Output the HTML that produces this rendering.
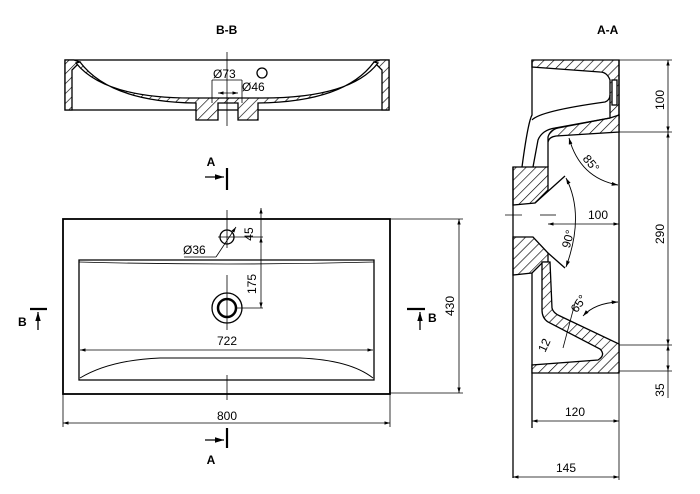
<!DOCTYPE html>
<html><head><style>body{margin:0;background:#fff}svg{display:block}text{font-family:"Liberation Sans",sans-serif;font-size:12px;fill:#000}</style></head><body>
<svg width="700" height="494" viewBox="0 0 700 494" xmlns="http://www.w3.org/2000/svg">
<defs>
<pattern id="h" width="7" height="7" patternUnits="userSpaceOnUse" patternTransform="rotate(45)"><rect width="7" height="7" fill="#fff"/><line x1="0" y1="0" x2="0" y2="7" stroke="#000" stroke-width="1.3"/></pattern>
<marker id="a" viewBox="0 0 10 10" refX="10" refY="5" markerWidth="7" markerHeight="7" orient="auto-start-reverse"><path d="M0,2 L10,5 L0,8z" fill="#000"/></marker>
</defs>
<g stroke="#000" fill="none" stroke-width="1.3">
<!-- B-B section -->
<rect x="65" y="60" width="324" height="50"/>
<path d="M65,60 L65,110 L72,110 L72,70 L80,62 L74,60z" fill="url(#h)"/>
<path d="M389,60 L389,110 L382,110 L382,70 L374,62 L380,60z" fill="url(#h)"/>
<path d="M80,62 Q110,102 196,103 L196,120 L218,120 L218,103 L238,103 L238,120 L258,120 L258,103 Q345,102 374,62 L378,63 Q350,99 258,98 L196,98 Q105,99 76,63z" fill="url(#h)"/>
<line x1="227" y1="52" x2="227" y2="126" stroke-width="0.8"/>
<circle cx="262" cy="73" r="5"/>
<line x1="212" y1="80" x2="242" y2="80" stroke-width="0.8"/>
<line x1="212" y1="80" x2="212" y2="103" stroke-width="0.8"/>
<line x1="242" y1="80" x2="242" y2="103" stroke-width="0.8"/>
<line x1="218" y1="93" x2="238" y2="93" stroke-width="0.8" marker-start="url(#a)" marker-end="url(#a)"/>
<!-- top view -->
<rect x="63" y="219" width="327" height="175" stroke-width="1.8"/>
<path d="M79,260 L374,260 L374,380 L79,380z"/>
<path d="M79,262 Q227,266 374,262" stroke-width="0.8"/>
<path d="M80,378 Q110,360 160,358 L300,358 Q350,360 373,378" stroke-width="0.9"/>
<circle cx="227" cy="308" r="15"/>
<circle cx="227" cy="308" r="9" stroke-width="2.5"/>
<circle cx="227" cy="237" r="7"/>
<line x1="227" y1="210" x2="227" y2="248" stroke-width="0.8"/>
<line x1="218" y1="237" x2="263" y2="237" stroke-width="0.8"/>
<line x1="227" y1="275" x2="227" y2="330" stroke-width="0.8"/>
<line x1="227" y1="375" x2="227" y2="400" stroke-width="0.8"/>
<line x1="237" y1="308" x2="263" y2="308" stroke-width="0.8"/>
<line x1="261" y1="208" x2="261" y2="237" stroke-width="0.8" marker-start="url(#a)"/>
<line x1="261" y1="237" x2="261" y2="308" stroke-width="0.8" marker-start="url(#a)" marker-end="url(#a)"/>
<line x1="184" y1="257" x2="216" y2="257" stroke-width="0.8"/>
<line x1="216" y1="257" x2="236" y2="227" stroke-width="0.8" marker-end="url(#a)"/>
<line x1="80" y1="350" x2="373" y2="350" stroke-width="0.8" marker-start="url(#a)" marker-end="url(#a)"/>
<line x1="63" y1="394" x2="63" y2="427" stroke-width="0.8"/>
<line x1="390" y1="394" x2="390" y2="427" stroke-width="0.8"/>
<line x1="63" y1="423" x2="390" y2="423" stroke-width="0.8" marker-start="url(#a)" marker-end="url(#a)"/>
<line x1="390" y1="219" x2="463" y2="219" stroke-width="0.8"/>
<line x1="390" y1="393" x2="463" y2="393" stroke-width="0.8"/>
<line x1="459" y1="219" x2="459" y2="393" stroke-width="0.8" marker-start="url(#a)" marker-end="url(#a)"/>
<!-- section markers -->
<line x1="227" y1="168" x2="227" y2="190" stroke-width="2.2"/>
<line x1="205" y1="177" x2="224" y2="177" marker-end="url(#a)"/>
<line x1="227" y1="428" x2="227" y2="448" stroke-width="2.2"/>
<line x1="205" y1="440" x2="224" y2="440" marker-end="url(#a)"/>
<line x1="30" y1="309" x2="47" y2="309" stroke-width="2.2"/>
<line x1="38" y1="330" x2="38" y2="312" marker-end="url(#a)"/>
<line x1="407" y1="309" x2="425" y2="309" stroke-width="2.2"/>
<line x1="420" y1="330" x2="420" y2="312" marker-end="url(#a)"/>
<!-- A-A section -->
<path d="M532,60 L619,60 L619,118 L610,118 L610,80 Q607,72 600,72 L532,67z" fill="url(#h)"/>
<rect x="612" y="80" width="5" height="25" fill="#fff"/>
<line x1="619" y1="60" x2="619" y2="373"/>
<path d="M532,60 L532,115 Q528,122 522,167"/>
<path d="M532,120 Q540,111 605,102 Q610,100 610,95"/>
<path d="M610,118 L619,115 L619,132 L556,136 Q549,137 548,142 L548,137 Q550,130 558,128z" fill="url(#h)"/>
<path d="M533,167 L538,140 Q542,130 555,128 L610,118"/>
<path d="M548,167 L548,142"/>
<path d="M513,167 L548,167 L548,190 L535,203 L513,205z" fill="url(#h)"/>
<path d="M513,237 L533,237 L548,253 L548,262 L543,262 L532,273 L513,275z" fill="url(#h)"/>
<path d="M513,167 L513,478"/>
<path d="M532,273 L532,428"/>
<path d="M542,262 L550,262 L552,308 Q553,313 560,316 L619,344 L619,373 L532,373 L532,365 L598,360 Q606,355 600,349 L548,322 Q542,318 542,310z" fill="url(#h)"/>
<line x1="505" y1="215" x2="522" y2="215" stroke-width="0.8"/>
<line x1="540" y1="215" x2="556" y2="215" stroke-width="0.8"/>
<line x1="548" y1="224" x2="619" y2="224" stroke-width="0.8" marker-start="url(#a)" marker-end="url(#a)"/>
<line x1="535" y1="203" x2="565" y2="176"/>
<line x1="548" y1="253" x2="565" y2="268"/>
<path d="M566,178 Q585,215 566,267" stroke-width="0.9" marker-start="url(#a)" marker-end="url(#a)"/>
<path d="M569,138 Q580,178 618,185" stroke-width="0.9" marker-start="url(#a)" marker-end="url(#a)"/>
<path d="M583,316 Q595,303 618,302" stroke-width="0.9" marker-start="url(#a)" marker-end="url(#a)"/>
<line x1="575" y1="303" x2="563" y2="348" stroke-width="0.8"/>
<line x1="619" y1="60" x2="672" y2="60" stroke-width="0.8"/>
<line x1="619" y1="132" x2="672" y2="132" stroke-width="0.8"/>
<line x1="619" y1="345" x2="672" y2="345" stroke-width="0.8"/>
<line x1="619" y1="371" x2="672" y2="371" stroke-width="0.8"/>
<line x1="668" y1="60" x2="668" y2="132" stroke-width="0.8" marker-start="url(#a)" marker-end="url(#a)"/>
<line x1="668" y1="132" x2="668" y2="345" stroke-width="0.8" marker-start="url(#a)" marker-end="url(#a)"/>
<line x1="668" y1="345" x2="668" y2="371" stroke-width="0.8" marker-start="url(#a)" marker-end="url(#a)"/>
<line x1="668" y1="371" x2="668" y2="398" stroke-width="0.8"/>
<line x1="532" y1="421" x2="619" y2="421" stroke-width="0.8" marker-start="url(#a)" marker-end="url(#a)"/>
<line x1="619" y1="373" x2="619" y2="480" stroke-width="0.8"/>
<line x1="513" y1="477" x2="619" y2="477" stroke-width="0.8" marker-start="url(#a)" marker-end="url(#a)"/>
</g>
<g font-size="12">
<text x="216" y="34" font-weight="bold">B-B</text>
<text x="597" y="34" font-weight="bold">A-A</text>
<text x="213" y="78">Ø73</text>
<text x="242" y="91">Ø46</text>
<text x="183" y="254">Ø36</text>
<text x="255" y="234" transform="rotate(-90 255 234)" text-anchor="middle" dy="-2">45</text>
<text x="256" y="284" transform="rotate(-90 256 284)" text-anchor="middle">175</text>
<text x="227" y="345" text-anchor="middle">722</text>
<text x="227" y="420" text-anchor="middle">800</text>
<text x="454" y="306" transform="rotate(-90 454 306)" text-anchor="middle">430</text>
<text x="211" y="166" text-anchor="middle" font-weight="bold">A</text>
<text x="211" y="464" text-anchor="middle" font-weight="bold">A</text>
<text x="18" y="326" font-weight="bold">B</text>
<text x="428" y="322" font-size="10" font-weight="bold">B</text>
<text x="598" y="219" text-anchor="middle">100</text>
<text x="575" y="416" text-anchor="middle">120</text>
<text x="566" y="472" text-anchor="middle">145</text>
<text x="664" y="100" transform="rotate(-90 664 100)" text-anchor="middle">100</text>
<text x="664" y="234" transform="rotate(-90 664 234)" text-anchor="middle">290</text>
<text x="664" y="390" transform="rotate(-90 664 390)" text-anchor="middle">35</text>
<text x="588" y="166" transform="rotate(50 588 166)" text-anchor="middle">85°</text>
<text x="572" y="240" transform="rotate(-75 572 240)" text-anchor="middle">90°</text>
<text x="582" y="306" transform="rotate(-55 582 306)" text-anchor="middle">65°</text>
<text x="548" y="347" transform="rotate(-65 548 347)" text-anchor="middle">12</text>
</g>
</svg>
</body></html>
